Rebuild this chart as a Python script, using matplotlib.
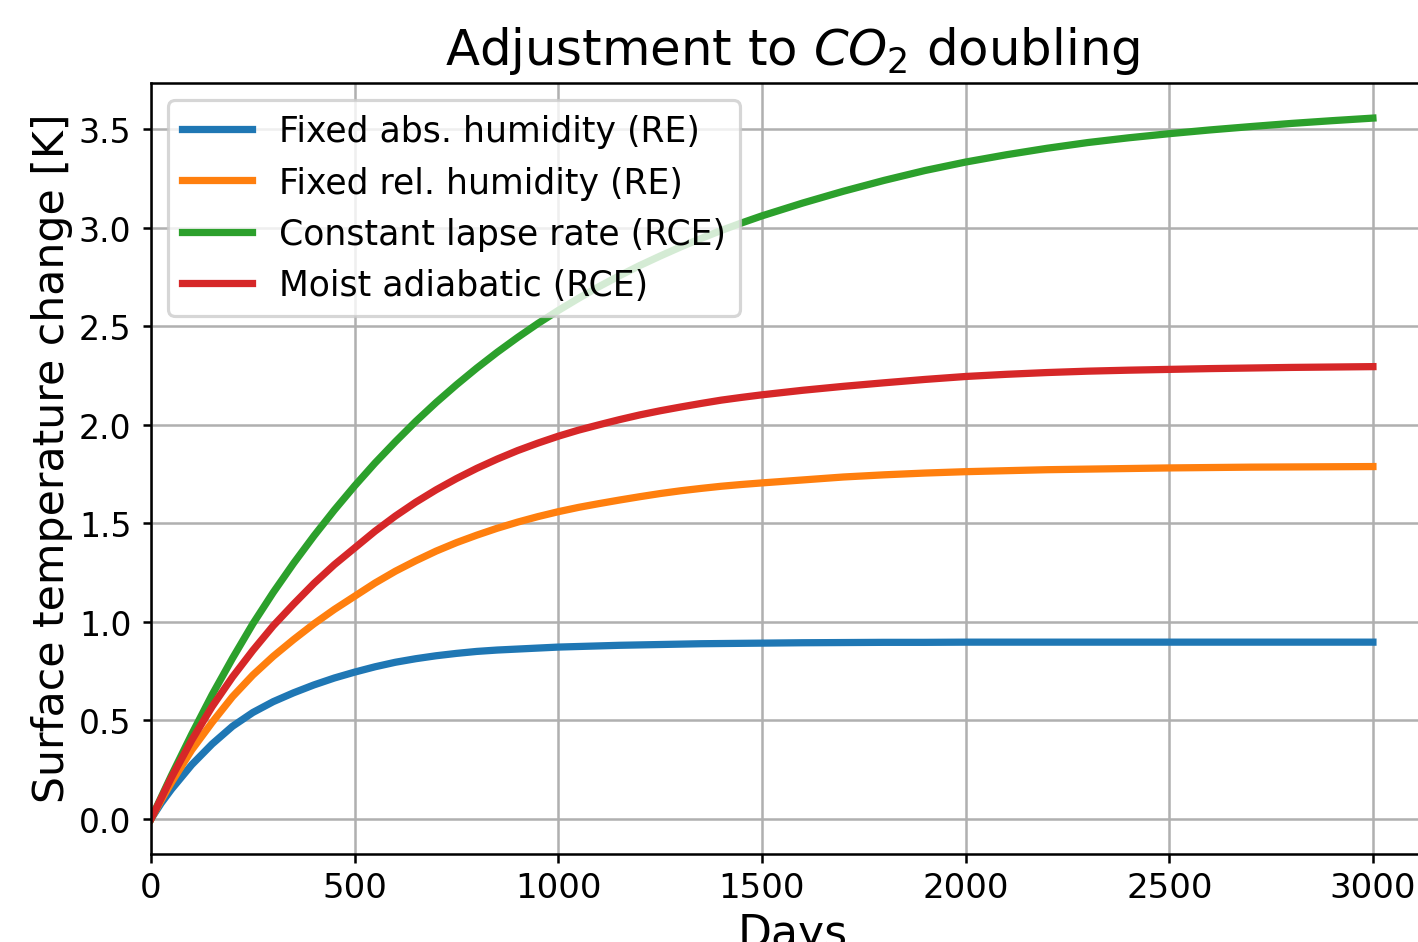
import matplotlib
matplotlib.use("Agg")
import matplotlib.pyplot as plt

# days since CO2 doubling (finer spacing where the curves bend most)
days = [0, 25, 50, 100, 150, 200, 250, 300, 350, 400, 450, 500, 550, 600, 650, 700,
        750, 800, 850, 900, 950, 1000, 1050, 1100, 1150, 1200, 1250, 1300, 1350, 1400,
        1450, 1500, 1600, 1700, 1800, 1900, 2000, 2100, 2200, 2300, 2400, 2500,
        2600, 2700, 2800, 2900, 3000]

# surface temperature change [K]
fixed_abs = [0.0, 0.08, 0.15, 0.275, 0.38, 0.47, 0.54, 0.595, 0.64, 0.68, 0.715, 0.745,
             0.772, 0.795, 0.813, 0.828, 0.84, 0.85, 0.857, 0.862, 0.867, 0.872, 0.875,
             0.878, 0.881, 0.883, 0.885, 0.887, 0.889, 0.890, 0.891, 0.892, 0.894, 0.895,
             0.896, 0.896, 0.897, 0.897, 0.897, 0.897, 0.897, 0.897, 0.897, 0.897, 0.897,
             0.897, 0.897]
fixed_rel = [0.0, 0.095, 0.185, 0.35, 0.49, 0.62, 0.73, 0.825, 0.91, 0.99, 1.063, 1.13,
             1.197, 1.257, 1.31, 1.359, 1.402, 1.44, 1.475, 1.506, 1.534, 1.559, 1.581, 1.60,
             1.618, 1.635, 1.651, 1.665, 1.677, 1.688, 1.697, 1.705, 1.72, 1.735, 1.746,
             1.755, 1.762, 1.767, 1.772, 1.775, 1.778, 1.781, 1.783, 1.785, 1.786, 1.787,
             1.788]
const_lapse = [0.0, 0.11, 0.22, 0.43, 0.63, 0.815, 0.99, 1.149, 1.297, 1.436, 1.567, 1.69,
               1.806, 1.914, 2.017, 2.113, 2.203, 2.288, 2.368, 2.443, 2.514, 2.58, 2.642,
               2.701, 2.756, 2.808, 2.856, 2.902, 2.945, 2.986, 3.024, 3.06, 3.125, 3.185,
               3.24, 3.29, 3.333, 3.37, 3.403, 3.432, 3.456, 3.477, 3.496, 3.513, 3.529,
               3.543, 3.556]
moist_adiab = [0.0, 0.105, 0.21, 0.40, 0.57, 0.72, 0.855, 0.98, 1.09, 1.195, 1.29, 1.375,
               1.46, 1.537, 1.607, 1.67, 1.727, 1.779, 1.826, 1.869, 1.907, 1.942, 1.973, 2.0,
               2.026, 2.05, 2.071, 2.09, 2.108, 2.125, 2.139, 2.152, 2.175, 2.195, 2.213,
               2.23, 2.245, 2.256, 2.265, 2.272, 2.277, 2.281, 2.285, 2.288, 2.291, 2.293,
               2.295]

series = [
    (fixed_abs, "Fixed abs. humidity (RE)"),
    (fixed_rel, "Fixed rel. humidity (RE)"),
    (const_lapse, "Constant lapse rate (RCE)"),
    (moist_adiab, "Moist adiabatic (RCE)"),
]

DPI = 227
fig = plt.figure(figsize=(1418 / DPI, 943 / DPI), dpi=DPI)
ax = fig.add_axes([0.1065, 0.0933, 0.9048, 0.8176])

for vals, label in series:
    ax.plot(days, vals, lw=2.3, label=label)

ax.set_xlim(0, 3150)
ax.set_ylim(-0.178, 3.734)
ax.set_xticks([0, 500, 1000, 1500, 2000, 2500, 3000])
ax.grid(True)
ax.tick_params(axis="x", labelsize=10.8, length=2.8, pad=2.5)
ax.tick_params(axis="y", labelsize=10.5, length=2.6, pad=3.6)
ax.set_xlabel("Days", fontsize=14, labelpad=2.6)
ax.set_ylabel("Surface temperature change [K]", fontsize=13.5)
ax.yaxis.set_label_coords(-0.061, 0.514)
ax.set_title("Adjustment to $CO_2$ doubling", fontsize=15.8)
ax.legend(loc="upper left", fontsize=11)

fig.savefig("out.png", dpi=DPI)
